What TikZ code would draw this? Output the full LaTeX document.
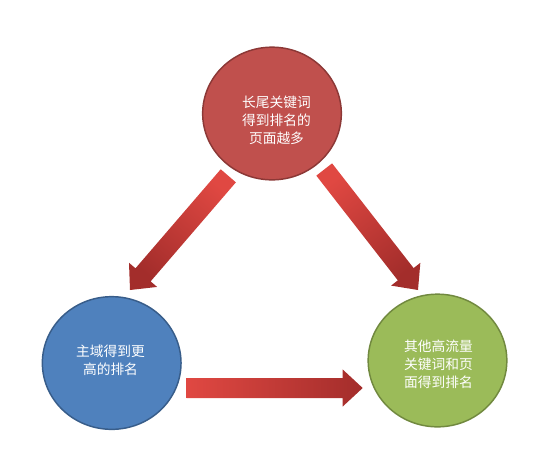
\documentclass[tikz,border=0pt]{standalone}
\usepackage{fontspec}
\newfontfamily\cjk{Noto Sans CJK SC}
\usepackage{tikz}
\usetikzlibrary{calc,shapes.geometric}

\definecolor{redfill}{RGB}{192,80,77}
\definecolor{reddraw}{RGB}{140,56,54}
\definecolor{bluefill}{RGB}{79,129,189}
\definecolor{bluedraw}{RGB}{56,93,138}
\definecolor{greenfill}{RGB}{155,187,89}
\definecolor{greendraw}{RGB}{113,137,63}
\definecolor{arrowlight}{RGB}{224,72,66}
\definecolor{arrowdark}{RGB}{163,45,43}

\begin{document}
\begin{tikzpicture}[x=0.75pt,y=0.75pt,yscale=-1,xscale=1,
  bubble/.style={ellipse, minimum width=104pt, minimum height=99.5pt, line width=1.1pt, inner sep=0pt},
  bubbletext/.style={text=white, align=center, inner sep=0.75pt, font=\cjk\fontsize{10.3}{13.5}\selectfont},
  blockarrow/.style={top color=arrowdark, bottom color=arrowlight}]
\useasboundingbox (0,0) rectangle (554,451);

%Shape: Circle [top]
\node [bubble, fill=redfill, draw=reddraw] (longtail) at (272,113.5) {};
%Shape: Circle [left]
\node [bubble, fill=bluefill, draw=bluedraw] (domain) at (111.7,363) {};
%Shape: Circle [right]
\node [bubble, fill=greenfill, draw=greendraw] (others) at (437.5,360.5) {};

% Text Node
\node [bubbletext] (longtailtext) at (276.5,120) {长尾关键词\\得到排名的\\页面越多};
% Text Node
\node [bubbletext] (domaintext) at (110.5,360.5) {主域得到更\\高的排名};
% Text Node
\node [bubbletext] (otherstext) at (438.5,364) {其他高流量\\关键词和页\\面得到排名};

% Arrow ends
\coordinate (leftstart) at (228.3,175.8);
\coordinate (lefttip) at (130,290);
\coordinate (lefthead) at ($(lefttip)!15pt!(leftstart)$);
\coordinate (rightstart) at (324.2,169.5);
\coordinate (righttip) at (418,290);
\coordinate (righthead) at ($(righttip)!15pt!(rightstart)$);
\coordinate (bottomstart) at (186.7,388);
\coordinate (bottomtip) at (362.7,388);
\coordinate (bottomhead) at ($(bottomtip)!15pt!(bottomstart)$);

%Shape: Right Arrow [top to left]
\shade [blockarrow, shading angle=139] ($(leftstart)!7.5pt!90:(lefttip)$) -- ($(lefthead)!7.5pt!90:(lefttip)$) -- ($(lefthead)!13.9pt!90:(lefttip)$) -- (lefttip) -- ($(lefthead)!13.9pt!-90:(lefttip)$) -- ($(lefthead)!7.5pt!-90:(lefttip)$) -- ($(leftstart)!7.5pt!-90:(lefttip)$) -- cycle ;
%Shape: Right Arrow [top to right]
\shade [blockarrow, shading angle=-142] ($(rightstart)!7.5pt!90:(righttip)$) -- ($(righthead)!7.5pt!90:(righttip)$) -- ($(righthead)!13.9pt!90:(righttip)$) -- (righttip) -- ($(righthead)!13.9pt!-90:(righttip)$) -- ($(righthead)!7.5pt!-90:(righttip)$) -- ($(rightstart)!7.5pt!-90:(righttip)$) -- cycle ;
%Shape: Right Arrow [left to right]
\shade [blockarrow, shading angle=-90] ($(bottomstart)!7.5pt!90:(bottomtip)$) -- ($(bottomhead)!7.5pt!90:(bottomtip)$) -- ($(bottomhead)!13.9pt!90:(bottomtip)$) -- (bottomtip) -- ($(bottomhead)!13.9pt!-90:(bottomtip)$) -- ($(bottomhead)!7.5pt!-90:(bottomtip)$) -- ($(bottomstart)!7.5pt!-90:(bottomtip)$) -- cycle ;

\end{tikzpicture}
\end{document}
